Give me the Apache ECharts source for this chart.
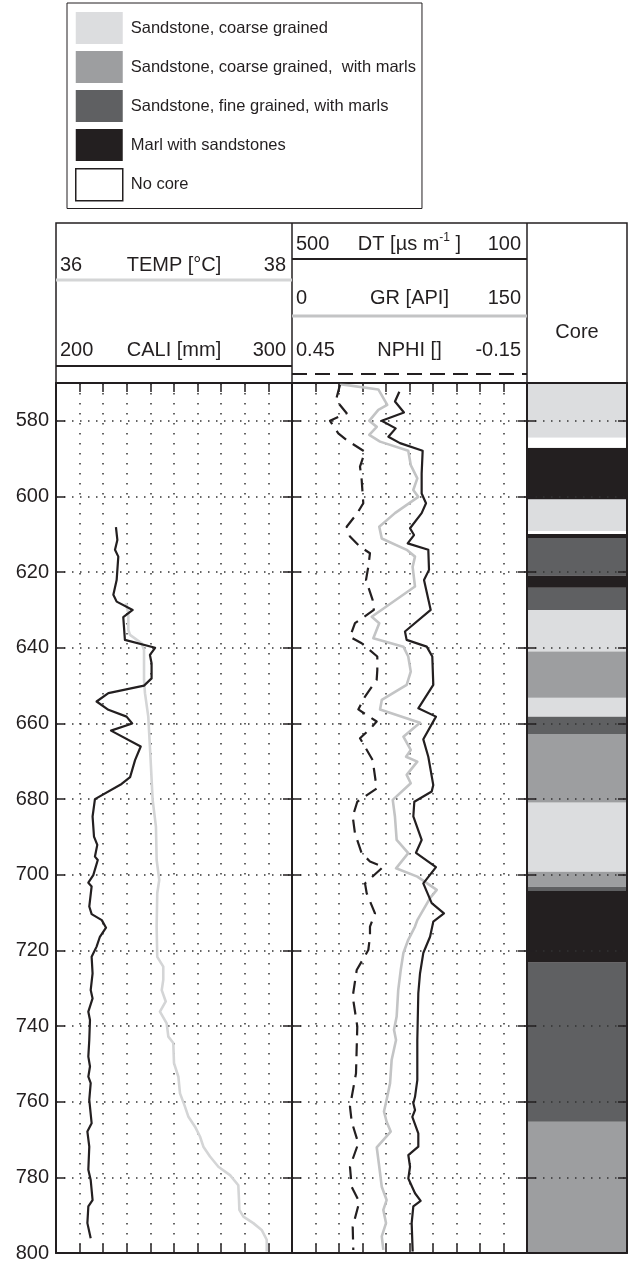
<!DOCTYPE html>
<html>
<head>
<meta charset="utf-8">
<script src="https://cdn.jsdelivr.net/npm/echarts@6/dist/echarts.min.js"></script>
<style>
html,body{margin:0;padding:0;background:#fff;}
#chart{width:629px;height:1263px;}
</style>
</head>
<body>
<div id="chart"></div>
<script>
// ---------- DATA ----------
const depthTicks = [580, 600, 620, 640, 660, 680, 700, 720, 740, 760, 780, 800];

const curveNames = ['TEMP [°C]', 'CALI [mm]', 'DT', 'GR [API]', 'NPHI []'];
const curveMinLabels = ['36', '200', '500', '0', '0.45'];
const curveMaxLabels = ['38', '300', '100', '150', '-0.15'];

const lithologies = ['Sandstone, coarse grained', 'Sandstone, coarse grained,  with marls',
  'Sandstone, fine grained, with marls', 'Marl with sandstones', 'No core'];

// CALI [mm]
const caliDepth = [608.1,611.5,614.1,615.9,622.1,626,627.8,630,631.9,637.9,640,641.9,644.1,648.1,650,652,654.2,656.4,658.2,660,661.9,666.1,669.7,674.2,676,680,684.6,689.9,692.1,695.2,696.1,700.1,702.1,703.1,708.4,710.4,712,714,716.4,719,721.7,726.1,730.5,732.7,736.2,738.4,743.7,748.1,750.7,753.4,755.1,759.5,765.7,767.9,771.9,778,780.7,786,787.7,792.1,796.1];
const caliValue = [225.4,226,225,226.4,225.7,224.3,225.7,232.5,228.5,229.2,242,239.8,240.5,240.5,237.3,222.2,217.2,222.2,229.9,232.3,223.3,235.9,233.5,231.4,227.8,216.5,215.5,216.1,217.5,216.5,217.7,215.8,213.7,215.1,214.1,215.1,219.4,221.2,218.6,217.2,215.1,215.5,214.7,215.5,213.7,214.4,214.1,213.7,214.4,213.7,214.7,214.1,215.1,213.3,214.1,213.7,214.7,215.5,213.7,213.3,214.7];

// TEMP [°C]
const tempDepth = [628.2,630.9,635.3,636.6,638.8,640.6,648.5,652,658.2,669.7,680.2,687.3,696.1,701.4,704.9,713.7,721.7,724.3,727.8,730.5,733.5,736.2,739.3,742.8,744.5,749.8,753.4,757.8,761.3,763.9,766.6,769.2,771.9,774.5,777.2,779.4,782.1,786,788.6,790.4,792.1,793.9,796.5,799.6];
const tempValue = [36.593,36.613,36.613,36.627,36.726,36.746,36.746,36.754,36.782,36.802,36.819,36.847,36.853,36.875,36.858,36.853,36.858,36.909,36.909,36.896,36.930,36.881,36.938,36.952,36.994,37.0,37.037,37.051,37.093,37.121,37.178,37.22,37.249,37.305,37.376,37.475,37.545,37.551,37.554,37.588,37.672,37.743,37.786,37.786];

// DT [µs m-1]
const dtDepth = [572.3,574.9,577.8,580,582,584.2,585.9,587.9,593.9,599.2,601.8,604.4,608.4,610.2,612.4,614.1,619.4,622.1,630,635.7,637.9,639.7,642.3,649.8,656,658.2,664.2,668.8,676.3,678,680.7,684.6,690.8,694.2,698,702.3,707.5,710.2,712.4,716.4,720.7,726.1,731.3,743.7,754.3,758.7,760.4,762.2,764,768.4,771.9,774.1,777.2,780.3,784.2,786.2,787.7,792.1,799.6];
const dtValue = [317.3,324.7,309.4,347.3,323.5,336,316.2,277.6,279.3,279.3,271.9,279.3,299.1,292.3,303.1,268,266.8,275.3,263.9,307.7,304.9,270.7,261.2,259.5,285,254.9,276.5,268,259.5,262.2,291.8,293.5,279.3,289,254.9,276.5,262.2,241.3,259.5,265,276.5,282.1,285,286.7,286.7,290.6,293.5,290.6,295.2,285,285,302,299.1,302,290.6,281,293.5,296.3,294.6];

// GR [API]
const grDepth = [570.3,571.7,575.8,577.1,580,581.6,583.7,585.5,587.9,591.7,595.2,598.3,600.1,604.4,608,611.1,614.1,615.9,618.6,623.8,631.8,633.5,637.5,639.7,642.3,646.3,649.8,653.8,656.3,659.8,663.5,667,668.8,670.1,673.6,675.8,680.2,684.6,690.8,694.3,698.3,700.5,704,706.2,712,713.7,717.2,720.7,725.2,730.5,737.5,741,743.7,749,755.1,759.5,762.6,765.3,767.9,772.1,777.2,782.5,786,788.6,792.1,795.6,799.2];
const grValue = [30.6,55.1,60.8,55.1,49.3,54.1,49.3,56.2,74.2,75.8,80,77.4,80.6,65.7,55.7,57.3,73.2,78.5,77,78.5,50.9,55.7,51.9,71.1,74.2,75.8,73.2,57.3,56.2,81.7,71.1,75.8,72.8,80,73.2,75.8,64.3,65.7,66.8,74.2,66.4,80,92.4,88.1,80,78.5,74.2,71.1,69.4,67.8,66.8,65.1,66.4,63.6,62.6,60.4,58.7,60.4,63,54.1,55.7,57.3,60.4,58.3,60,57.3,58.3];

// NPHI []
const nphiDepth = [570.5,574.5,578,580,583.3,585.1,588.2,592.1,595.6,601.8,604.4,608,610.6,613.3,615,618.6,622.1,627.4,630,633.5,637.1,638.8,642.3,645.9,648.5,652.9,656.3,659.5,661.3,663.9,669.7,677.2,680.7,684.6,689.1,694.3,696.5,697.9,702.3,704.9,710.2,713.7,716.4,719.9,725.2,732.2,740.1,752.5,761.3,765.3,771,777.2,782.5,786.5,793.1,799.2];
const nphiValue = [0.3275,0.3377,0.3104,0.353,0.3318,0.3104,0.2636,0.2764,0.2721,0.268,0.2833,0.3104,0.302,0.2764,0.2509,0.2552,0.2611,0.244,0.241,0.2892,0.302,0.2721,0.2322,0.2322,0.2338,0.2636,0.2807,0.2338,0.2491,0.2764,0.244,0.2338,0.2833,0.295,0.2892,0.2721,0.2509,0.2169,0.2636,0.2593,0.2381,0.2509,0.2509,0.2552,0.2848,0.295,0.2833,0.2866,0.302,0.2976,0.2807,0.302,0.2976,0.2782,0.295,0.2935];

// Core intervals [top, bottom] depth per lithology
const coreCoarse = [[570,584.5],[600.7,609.1],[630,641],[653.2,658.2],[680.9,699.2]];
const coreCoarseMarls = [[641,653.2],[662.8,680.9],[699.2,703.2],[765.3,800]];
const coreFineMarls = [[611,620.9],[624.1,630],[658.2,662.8],[703.2,704.3],[723.2,765.3]];
const coreMarl = [[587.1,600.7],[609.9,611],[620.9,624.1],[704.3,723.2]];
const coreNone = [[584.5,587.1],[609.1,609.9]];

// ---------- STYLE ----------
const FONT = '"Liberation Sans", Arial, Helvetica, sans-serif';
const INK = '#231f20';
const litColors = ['#dcdddf', '#9d9ea0', '#5f6062', '#231f20', '#ffffff'];
const DEPTH_MIN = 570, DEPTH_MAX = 800;

const G1 = {left: 56, width: 236}, G2 = {left: 292, width: 235}, G3 = {left: 527, width: 100};
const TOP = 383, H = 870;

function pairs(vals, depths) { return vals.map((v, i) => [v, depths[i]]); }

const axisLineStyle = {color: INK, width: 2};
const tickStyle = {color: INK, width: 1.5};
const hDots = {type: [1.5, 6.5], color: '#333', width: 1.5, cap: 'butt'};
const vDots = {type: [1.5, 8.5], color: '#333', width: 1.5, cap: 'butt'};

function yAx(gridIndex, position, showLabel, split) {
  return {
    type: 'value', gridIndex, position, inverse: true, min: DEPTH_MIN, max: DEPTH_MAX,
    axisLine: {show: true, onZero: false, lineStyle: axisLineStyle},
    axisTick: {show: true, inside: true, length: 9, customValues: depthTicks, lineStyle: tickStyle},
    axisLabel: {show: showLabel, customValues: depthTicks, margin: 7, fontSize: 20, color: INK, fontFamily: FONT},
    splitLine: {show: split, lineStyle: hDots}
  };
}
function xAx(gridIndex, position, min, max, interval, ticks, split) {
  return {
    type: 'value', gridIndex, position, min, max, interval,
    axisLine: {show: true, onZero: false, lineStyle: axisLineStyle},
    axisTick: {show: ticks, inside: true, length: 9, lineStyle: tickStyle},
    axisLabel: {show: false},
    splitLine: {show: split, lineStyle: vDots}
  };
}
function hiddenX(gridIndex, min, max, inverse) {
  return {type: 'value', gridIndex, min, max, inverse: !!inverse, show: false,
    axisLine: {show: false}, axisTick: {show: false}, axisLabel: {show: false}, splitLine: {show: false}};
}

const xAxes = [
  xAx(0, 'bottom', 200, 300, 10, true, true),   // 0 CALI (display)
  xAx(0, 'top', 200, 300, 10, true, false),     // 1
  hiddenX(0, 36, 38),                           // 2 TEMP
  xAx(1, 'bottom', 0, 150, 15, true, true),     // 3 GR (display)
  xAx(1, 'top', 0, 150, 15, true, false),       // 4
  hiddenX(1, 100, 500, true),                   // 5 DT
  hiddenX(1, -0.15, 0.45, true),                // 6 NPHI
  xAx(2, 'bottom', 0, 1, 1, false, false),      // 7 core
  xAx(2, 'top', 0, 1, 1, false, false)          // 8
];
const yAxes = [
  yAx(0, 'left', true, true), yAx(0, 'right', false, false),
  yAx(1, 'left', false, true), yAx(1, 'right', false, false),
  yAx(2, 'left', false, true), yAx(2, 'right', false, false)
];

function lineSeries(name, data, xi, yi, color, width, dash) {
  return {
    type: 'line', name, data, xAxisIndex: xi, yAxisIndex: yi, showSymbol: false, symbol: 'none',
    smooth: false, animation: false, z: 3,
    lineStyle: {color, width, type: dash || 'solid', cap: 'butt', join: 'round'}
  };
}

function coreSeries(idx, intervals) {
  const color = litColors[idx];
  return {
    type: 'custom', name: lithologies[idx], xAxisIndex: 7, yAxisIndex: 4, z: -1, animation: false,
    itemStyle: {color},
    data: intervals.map(d => [d[0], d[1]]),
    encode: {y: [0, 1]},
    renderItem: function (params, api) {
      const p1 = api.coord([0, api.value(0)]);
      const p2 = api.coord([1, api.value(1)]);
      return {type: 'rect', shape: {x: p1[0], y: p1[1], width: p2[0] - p1[0], height: p2[1] - p1[1]},
        style: {fill: color}};
    }
  };
}

// ---------- HEADER GRAPHICS ----------
function txt(x, y, text, align, extra) {
  return Object.assign({type: 'text', silent: true, z: 10,
    style: Object.assign({x, y, text, fill: INK, fontSize: 20, fontFamily: FONT,
      align: align, verticalAlign: 'middle', textAlign: align, textVerticalAlign: 'middle'}, extra || {})});
}
function hline(x1, x2, y, stroke, w, dash) {
  return {type: 'line', silent: true, z: 10, shape: {x1, y1: y, x2, y2: y},
    style: {stroke, lineWidth: w, lineDash: dash || null}};
}
const HT = 223;
const t1L = G1.left, t1R = G1.left + G1.width, t2L = G2.left, t2R = G2.left + G2.width, t3R = G3.left + G3.width;
const graphics = [
  {type: 'rect', silent: true, z: 10, shape: {x: t1L, y: HT, width: t3R - t1L, height: TOP - HT},
    style: {fill: 'none', stroke: INK, lineWidth: 1.5}},
  {type: 'line', silent: true, z: 10, shape: {x1: t1R, y1: HT, x2: t1R, y2: TOP}, style: {stroke: INK, lineWidth: 1.5}},
  {type: 'line', silent: true, z: 10, shape: {x1: t2R, y1: HT, x2: t2R, y2: TOP}, style: {stroke: INK, lineWidth: 1.5}},
  // track 1: TEMP
  txt(t1L + 4, 265, curveMinLabels[0], 'left'),
  txt((t1L + t1R) / 2, 265, curveNames[0], 'center'),
  txt(t1R - 6, 265, curveMaxLabels[0], 'right'),
  hline(t1L, t1R, 280, '#d4d5d6', 3),
  // track 1: CALI
  txt(t1L + 4, 350, curveMinLabels[1], 'left'),
  txt((t1L + t1R) / 2, 350, curveNames[1], 'center'),
  txt(t1R - 6, 350, curveMaxLabels[1], 'right'),
  hline(t1L, t1R, 366, INK, 2),
  // track 2: DT
  txt(t2L + 4, 244, curveMinLabels[2], 'left'),
  txt((t2L + t2R) / 2, 244, '{a|' + curveNames[2] + ' [µs m}{s|-1}{a| ]}', 'center', {
    rich: {a: {fontSize: 20, fontFamily: FONT, fill: INK},
           s: {fontSize: 12, fontFamily: FONT, fill: INK, padding: [0, 0, 12, 0]}}}),
  txt(t2R - 6, 244, curveMaxLabels[2], 'right'),
  hline(t2L, t2R, 259, INK, 2),
  // track 2: GR
  txt(t2L + 4, 298, curveMinLabels[3], 'left'),
  txt((t2L + t2R) / 2, 298, curveNames[3], 'center'),
  txt(t2R - 6, 298, curveMaxLabels[3], 'right'),
  hline(t2L, t2R, 316, '#c3c4c5', 3),
  // track 2: NPHI
  txt(t2L + 4, 350, curveMinLabels[4], 'left'),
  txt((t2L + t2R) / 2, 350, curveNames[4], 'center'),
  txt(t2R - 6, 350, curveMaxLabels[4], 'right'),
  hline(t2L, t2R, 374, INK, 2, [15, 8]),
  // core
  txt((G3.left + t3R) / 2, 332, 'Core', 'center')
];

const option = {
  animation: false,
  backgroundColor: '#ffffff',
  textStyle: {fontFamily: FONT},
  grid: [
    {left: G1.left, top: TOP, width: G1.width, height: H, containLabel: false},
    {left: G2.left, top: TOP, width: G2.width, height: H, containLabel: false},
    {left: G3.left, top: TOP, width: G3.width, height: H, containLabel: false}
  ],
  legend: {
    orient: 'vertical', left: 67, top: 3, selectedMode: false,
    padding: [9, 6, 7, 8], itemGap: 7, itemWidth: 47, itemHeight: 32, icon: 'rect',
    borderColor: INK, borderWidth: 1,
    textStyle: {fontSize: 16.5, color: INK, fontFamily: FONT, padding: [0, 0, 0, 3]},
    data: lithologies.map((n, i) => i === 4
      ? {name: n, icon: 'rect', itemStyle: {color: '#ffffff', borderColor: INK, borderWidth: 1.5}}
      : {name: n, icon: 'rect', itemStyle: {color: litColors[i], borderWidth: 0}})
  },
  xAxis: xAxes,
  yAxis: yAxes,
  graphic: graphics,
  series: [
    coreSeries(0, coreCoarse),
    coreSeries(1, coreCoarseMarls),
    coreSeries(2, coreFineMarls),
    coreSeries(3, coreMarl),
    coreSeries(4, coreNone),
    lineSeries('TEMP', pairs(tempValue, tempDepth), 2, 0, '#d4d5d6', 2.6),
    lineSeries('CALI', pairs(caliValue, caliDepth), 0, 0, INK, 2.2),
    lineSeries('GR', pairs(grValue, grDepth), 3, 2, '#c3c4c5', 2.6),
    lineSeries('NPHI', pairs(nphiValue, nphiDepth), 6, 2, INK, 2.2, [13, 8]),
    lineSeries('DT', pairs(dtValue, dtDepth), 5, 2, INK, 2.2)
  ]
};

const chart = echarts.init(document.getElementById('chart'), null, {renderer: 'canvas'});
chart.setOption(option);
</script>
</body>
</html>
